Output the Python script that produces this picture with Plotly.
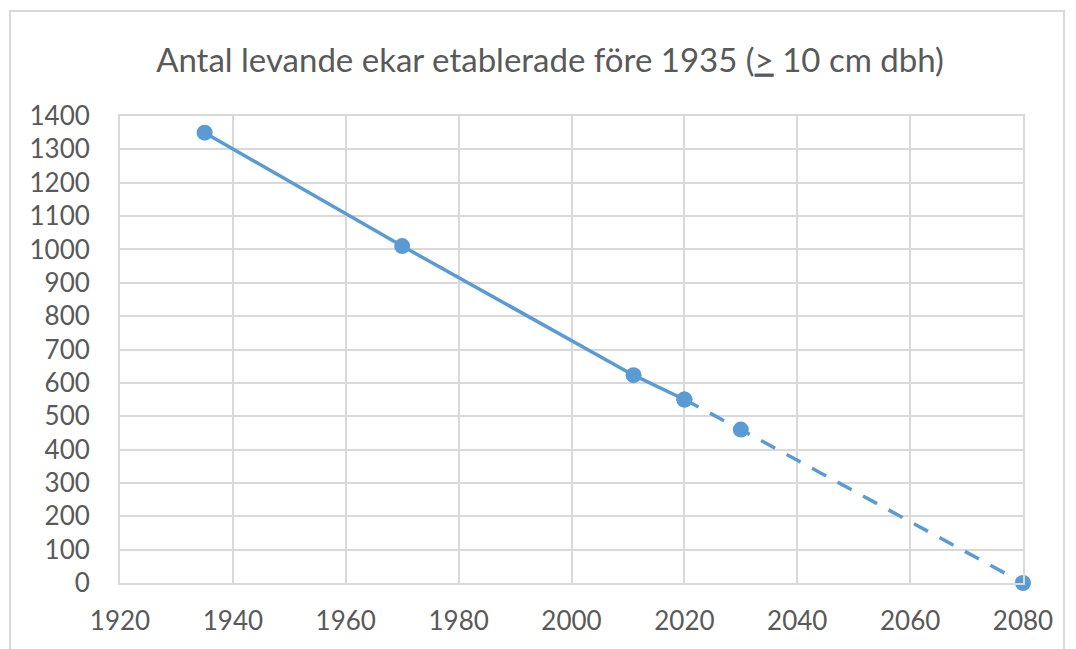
import plotly.graph_objects as go

years_obs = [1935, 1970, 2011, 2020]
count_obs = [1350, 1010, 623, 550]
years_proj = [2020, 2030, 2080]
count_proj = [550, 460, 0]
title_text = "Antal levande ekar etablerade före 1935 (<u>&gt;</u> 10 cm dbh)"

color = "#5B9BD5"
grid = "#D9D9D9"
txt = "#595959"
font = "Lato"

fig = go.Figure()
fig.add_trace(go.Scatter(x=years_obs, y=count_obs, mode="lines+markers",
                         line=dict(color=color, width=3.5),
                         marker=dict(size=16, color=color), showlegend=False,
                         cliponaxis=False))
fig.add_trace(go.Scatter(x=years_proj, y=count_proj, mode="lines+markers",
                         line=dict(color=color, width=3.5, dash="16px,13px"),
                         marker=dict(size=16, color=color), showlegend=False,
                         cliponaxis=False))

# page body has an 8px offset
OFF = 8
L, R, T, B = 120 - OFF, 53 + OFF, 116 - OFF, 66 + OFF
W, H = 1076, 649
pw, ph = W - L - R, H - T - B

def px(x):
    return (x - OFF - L) / pw

def py(y):
    return (H - B - (y - OFF)) / ph

fig.update_layout(
    width=W, height=H,
    margin=dict(l=L, r=R, t=T, b=B),
    paper_bgcolor="white", plot_bgcolor="white",
    font=dict(family=font, color=txt, size=26),
    title=dict(text=title_text, x=(550 - OFF) / W, xanchor="center", y=1 - (60 - OFF) / H, yanchor="middle",
               font=dict(family=font, size=33, color=txt)),
    xaxis=dict(range=[1920, 2080], dtick=20, tick0=1920, showgrid=True, gridcolor=grid, gridwidth=2,
               showline=True, linecolor=grid, linewidth=2, mirror=True, zeroline=False,
               ticks="", ticklabelstandoff=14, tickfont=dict(size=26, color=txt)),
    yaxis=dict(range=[0, 1400], dtick=100, tick0=0, showgrid=True, gridcolor=grid, gridwidth=2,
               showline=True, linecolor=grid, linewidth=2, mirror=True, zeroline=False,
               ticks="", ticklabelstandoff=23, tickfont=dict(size=26, color=txt)),
    shapes=[dict(type="rect", xref="paper", yref="paper",
                 x0=px(10), x1=px(1064), y0=py(720), y1=py(11),
                 line=dict(color=grid, width=2), fillcolor="rgba(0,0,0,0)", layer="below")],
)

fig.write_html("out.html")
